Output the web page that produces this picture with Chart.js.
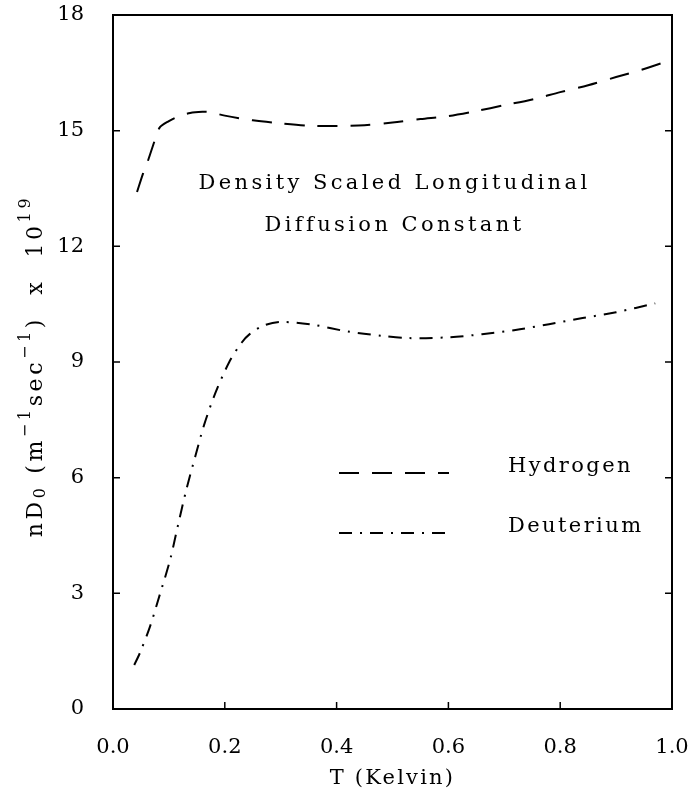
<!DOCTYPE html>
<html>
<head>
<meta charset="utf-8">
<script src="https://cdn.jsdelivr.net/npm/chart.js@4.4.1/dist/chart.umd.min.js"></script>
<style>
  html, body { margin: 0; padding: 0; background: #fff; }
  #wrap { width: 692px; height: 802px; position: relative; }
</style>
</head>
<body>
<div id="wrap"><canvas id="c"></canvas></div>
<script>
// ---- data ----
const hydrogenT = [0.043, 0.054, 0.063, 0.075, 0.084, 0.10, 0.114, 0.138, 0.16, 0.174, 0.2, 0.25, 0.3, 0.35, 0.4, 0.45, 0.5, 0.55, 0.6, 0.65, 0.7, 0.75, 0.8, 0.85, 0.9, 0.95, 1.0];
const hydrogenD = [13.41, 13.9, 14.24, 14.76, 15.09, 15.25, 15.35, 15.46, 15.49, 15.48, 15.39, 15.27, 15.19, 15.13, 15.12, 15.14, 15.21, 15.30, 15.38, 15.51, 15.66, 15.81, 16.0, 16.18, 16.39, 16.6, 16.84];
const deuteriumT = [0.038, 0.048, 0.066, 0.084, 0.102, 0.116, 0.131, 0.147, 0.163, 0.183, 0.208, 0.23, 0.245, 0.27, 0.30, 0.36, 0.42, 0.48, 0.53, 0.6, 0.66, 0.72, 0.78, 0.84, 0.9, 0.97];
const deuteriumD = [1.14, 1.45, 2.13, 2.98, 3.86, 4.75, 5.68, 6.54, 7.37, 8.19, 9.0, 9.5, 9.73, 9.95, 10.04, 9.96, 9.79, 9.68, 9.62, 9.64, 9.72, 9.83, 9.98, 10.14, 10.29, 10.52];
const seriesNames = ["Hydrogen", "Deuterium"];
const xTicks = [0.0, 0.2, 0.4, 0.6, 0.8, 1.0];
const yTicks = [0, 3, 6, 9, 12, 15, 18];
const titleLines = ["Density Scaled Longitudinal", "Diffusion Constant"];
const xTitle = "T (Kelvin)";
// y title as pieces: [text, kind] kind: n normal, sub, sup
const yTitleParts = [["nD", "n"], ["0", "sub"], [" (m", "n"], ["\u22121", "sup"], ["sec", "n"], ["\u22121", "sup"], [")  x  10", "n"], ["19", "sup"]];

const INK = '#000';
const FONT = '"DejaVu Serif", "Liberation Serif", serif';
const dashH = [20, 13];
const dashD = [13, 8, 2, 8];

const toPts = (xs, ys) => xs.map((x, i) => ({ x: x, y: ys[i] }));

const framePlugin = {
  id: 'frame',
  afterDatasetsDraw(chart) {
    const { ctx, chartArea: a, scales } = chart;
    ctx.save();
    ctx.strokeStyle = INK;
    ctx.lineWidth = 2;
    ctx.strokeRect(a.left, a.top, a.right - a.left, a.bottom - a.top);
    ctx.lineWidth = 1.5;
    const tl = 7;
    yTicks.forEach(v => {
      const y = scales.y.getPixelForValue(v);
      ctx.beginPath();
      ctx.moveTo(a.left, y); ctx.lineTo(a.left + tl, y);
      ctx.moveTo(a.right, y); ctx.lineTo(a.right - tl, y);
      ctx.stroke();
    });
    xTicks.forEach(v => {
      const x = scales.x.getPixelForValue(v);
      ctx.beginPath();
      ctx.moveTo(x, a.bottom); ctx.lineTo(x, a.bottom - tl);
      ctx.stroke();
    });

    ctx.fillStyle = INK;
    ctx.font = '21px ' + FONT;
    ctx.textBaseline = 'middle';

    // in-plot title
    ctx.textAlign = 'center';
    ctx.letterSpacing = '3.4px';
    const cx = (a.left + a.right) / 2 + 2;
    ctx.fillText(titleLines[0], cx, 184);
    ctx.fillText(titleLines[1], cx, 226);

    // legend inside plot
    const ds = chart.data.datasets;
    const rows = [473, 533];
    ds.forEach((d, i) => {
      ctx.save();
      ctx.strokeStyle = d.borderColor;
      ctx.lineWidth = d.borderWidth;
      ctx.setLineDash(d.borderDash);
      ctx.beginPath();
      ctx.moveTo(339, rows[i]);
      ctx.lineTo(449, rows[i]);
      ctx.stroke();
      ctx.restore();
      ctx.textAlign = 'left';
      ctx.letterSpacing = '2.4px';
      ctx.fillText(d.label, 508, rows[i] - 6);
    });

    // x axis title
    ctx.textAlign = 'center';
    ctx.letterSpacing = '2.2px';
    ctx.fillText(xTitle, (a.left + a.right) / 2, 779);

    // y axis title (rotated, with super/subscripts)
    ctx.save();
    ctx.textAlign = 'left';
    ctx.textBaseline = 'alphabetic';
    ctx.letterSpacing = '3.6px';
    const fontFor = k => (k === 'n' ? '22px ' : '16px ') + FONT;
    let total = 0;
    yTitleParts.forEach(([t, k]) => { ctx.font = fontFor(k); total += ctx.measureText(t).width; });
    const cy = (a.top + a.bottom) / 2 + 4;
    ctx.translate(42, cy);
    ctx.rotate(-Math.PI / 2);
    let px = -total / 2;
    yTitleParts.forEach(([t, k]) => {
      ctx.font = fontFor(k);
      const dy = k === 'sup' ? -12 : (k === 'sub' ? 3 : 0);
      ctx.fillText(t, px, dy);
      px += ctx.measureText(t).width;
    });
    ctx.restore();

    ctx.restore();
  }
};

new Chart(document.getElementById('c'), {
  type: 'line',
  data: {
    datasets: [
      { label: seriesNames[0], data: toPts(hydrogenT, hydrogenD), borderColor: INK, borderWidth: 2, borderDash: dashH, pointRadius: 0, tension: 0.3, fill: false },
      { label: seriesNames[1], data: toPts(deuteriumT, deuteriumD), borderColor: INK, borderWidth: 2, borderDash: dashD, pointRadius: 0, tension: 0.3, fill: false }
    ]
  },
  options: {
    responsive: true,
    maintainAspectRatio: false,
    animation: false,
    layout: { padding: { top: 15, right: 20, left: 0, bottom: 0 } },
    plugins: { legend: { display: false }, tooltip: { enabled: false } },
    scales: {
      x: {
        type: 'linear', min: 0, max: 1,
        afterBuildTicks: s => { s.ticks = xTicks.map(v => ({ value: v })); },
        afterFit: s => { s.height = 93; s.paddingLeft = 0; s.paddingRight = 0; },
        grid: { display: false, drawTicks: false },
        border: { display: false },
        ticks: { color: INK, font: { family: FONT, size: 21 }, padding: 26, maxRotation: 0, callback: v => v.toFixed(1) },
        title: { display: false }
      },
      y: {
        type: 'linear', min: 0, max: 18,
        afterBuildTicks: s => { s.ticks = yTicks.map(v => ({ value: v })); },
        afterFit: s => { s.width = 113; s.paddingTop = 0; s.paddingBottom = 0; },
        grid: { display: false, drawTicks: false },
        border: { display: false },
        ticks: { color: INK, font: { family: FONT, size: 21 }, padding: 29 },
        title: { display: false }
      }
    }
  },
  plugins: [framePlugin]
});
</script>
</body>
</html>
